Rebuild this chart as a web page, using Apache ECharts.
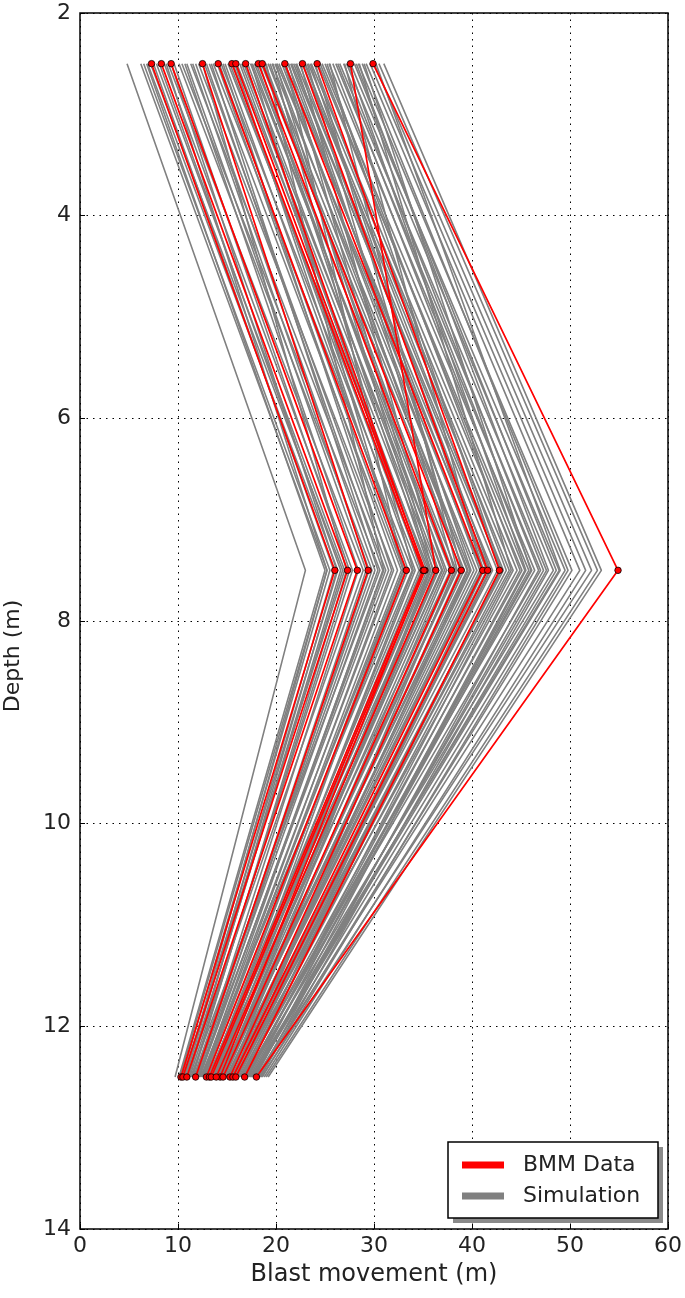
<!DOCTYPE html>
<html>
<head>
<meta charset="utf-8">
<script src="https://cdn.jsdelivr.net/npm/echarts@6/dist/echarts.min.js"></script>
<style>
html,body{margin:0;padding:0;background:#fff;}
#chart{width:685px;height:1298px;}
</style>
</head>
<body>
<div id="chart"></div>
<script>
// Depth levels (m)
const depths = [2.5, 7.5, 12.5];
const xTicks = [0, 10, 20, 30, 40, 50, 60];
const yTicks = [2, 4, 6, 8, 10, 12, 14];

// BMM Data (red) : movement at each depth level
const bmmTop    = [7.3, 8.3, 9.3, 12.5, 14.1, 15.5, 15.9, 16.9, 18.2, 18.6, 20.9, 22.7, 24.2, 27.6, 29.9];
const bmmMid    = [26.0, 27.3, 28.3, 29.4, 33.3, 35.0, 35.2, 35.1, 37.9, 38.9, 41.1, 41.6, 42.8, 36.3, 54.9];
const bmmBottom = [10.3, 10.5, 10.9, 11.8, 12.9, 13.2, 13.4, 14.3, 14.6, 15.3, 15.6, 15.9, 16.8, 13.9, 18.0];

// Simulation (gray)
const simTop = [4.8, 6.2, 6.5, 6.9, 7.5, 7.8, 8.1, 8.6, 9.0, 9.6, 10.1, 10.4, 10.9, 11.3, 11.8, 12.1, 12.7, 13.2, 13.6, 14.0,
  14.4, 14.8, 15.1, 15.6, 16.0, 16.3, 16.7, 17.1, 17.4, 17.8, 18.0, 18.5, 18.9, 19.2, 19.6, 19.9, 20.3, 20.6, 20.9, 21.2,
  21.5, 21.8, 22.1, 22.4, 22.7, 23.0, 23.3, 23.6, 23.9, 24.3, 24.7, 25.0, 25.4, 25.8, 26.1, 26.5, 26.9, 27.2, 27.6, 28.0,
  28.4, 28.8, 29.2, 29.6, 30.0, 30.5, 31.0, 27.0, 28.5, 25.5, 19.0, 21.0, 22.5, 24.0, 12.5, 8.8, 17.5, 20.0, 23.2,
  6.8, 7.2, 9.3, 10.7, 11.5, 12.9, 13.4, 14.2, 14.6, 15.3, 15.8, 16.5, 16.9, 17.6, 18.3, 18.7, 19.4, 20.1, 20.8, 21.6,
  22.0, 22.9, 23.5, 24.5, 25.2, 26.3, 27.4, 28.2, 29.0, 30.2, 21.3, 19.7];
const simMid = [23.0, 25.2, 25.5, 26.3, 25.9, 27.0, 26.6, 27.8, 28.9, 27.5, 29.8, 30.6, 29.2, 31.2, 30.1, 32.0, 31.5, 32.8, 33.9, 32.4,
  34.6, 33.5, 35.6, 34.2, 36.1, 35.4, 37.0, 36.6, 37.8, 38.4, 36.9, 39.2, 38.0, 39.8, 40.5, 39.5, 41.0, 40.2, 42.1, 41.5,
  40.8, 42.6, 43.2, 41.9, 43.8, 42.9, 44.6, 45.1, 43.5, 45.8, 46.4, 44.9, 47.0, 46.1, 47.6, 48.3, 47.3, 48.9, 49.5, 48.6,
  50.2, 49.8, 51.0, 51.6, 52.2, 52.8, 53.2, 41.0, 44.0, 38.5, 31.0, 33.0, 36.5, 39.0, 27.2, 25.2, 33.0, 35.8, 38.2,
  25.0, 26.8, 26.2, 28.4, 29.5, 30.9, 30.4, 33.0, 31.8, 34.9, 33.2, 36.4, 34.8, 37.4, 35.7, 39.6, 37.2, 41.8, 38.8, 43.0,
  39.9, 44.2, 41.2, 45.4, 43.0, 46.8, 45.5, 47.8, 46.0, 49.0, 36.0, 34.0];
const simBottom = [9.7, 10.2, 10.4, 10.6, 10.8, 10.5, 11.0, 11.2, 10.9, 11.4, 11.6, 11.3, 11.9, 12.1, 11.7, 12.4, 12.0, 12.6, 12.3, 12.8,
  13.1, 12.9, 13.3, 13.6, 13.0, 13.8, 13.5, 14.1, 13.7, 14.3, 14.0, 14.5, 14.8, 14.2, 15.0, 14.6, 15.2, 14.9, 15.4, 15.7,
  15.1, 15.5, 15.9, 16.2, 15.8, 16.4, 16.0, 16.6, 16.3, 16.9, 16.5, 17.1, 16.8, 17.3, 17.6, 17.0, 17.8, 17.4, 18.0, 17.7,
  18.3, 18.6, 18.1, 18.8, 18.5, 19.0, 19.2, 15.0, 16.5, 14.4, 12.2, 12.5, 13.2, 14.7, 11.5, 10.7, 13.9, 15.3, 16.1,
  10.1, 10.9, 11.1, 11.8, 12.2, 12.5, 11.9, 13.4, 12.7, 13.9, 13.2, 14.4, 13.6, 15.1, 14.7, 15.6, 14.4, 16.0, 15.5, 16.7,
  15.0, 17.2, 16.8, 17.5, 15.9, 18.2, 17.9, 18.4, 16.9, 17.7, 14.1, 13.7];

const FONT = 'DejaVu Sans';
const FS = 22;
const series = [];
for (let i = 0; i < simTop.length; i++) {
  series.push({
    name: 'Simulation', type: 'line', symbol: 'none', silent: true,
    lineStyle: { color: '#808080', width: 1.6 },
    itemStyle: { color: '#808080' },
    data: [[simTop[i], depths[0]], [simMid[i], depths[1]], [simBottom[i], depths[2]]],
    z: 2
  });
}
for (let i = 0; i < bmmTop.length; i++) {
  series.push({
    name: 'BMM Data', type: 'line', symbol: 'circle', symbolSize: 6.5, silent: true,
    lineStyle: { color: '#ff0000', width: 1.7 },
    itemStyle: { color: '#ff0000', borderColor: '#000', borderWidth: 0.8 },
    data: [[bmmTop[i], depths[0]], [bmmMid[i], depths[1]], [bmmBottom[i], depths[2]]],
    z: 3
  });
}

const chart = echarts.init(document.getElementById('chart'));
chart.setOption({
  animation: false,
  backgroundColor: '#fff',
  grid: { left: 80, right: 17, top: 13, bottom: 69, containLabel: false, outerBoundsMode: 'none',
          show: true, borderColor: '#000', borderWidth: 1.5, backgroundColor: 'transparent' },
  xAxis: {
    type: 'value', min: xTicks[0], max: xTicks[xTicks.length - 1], interval: 10,
    name: 'Blast movement (m)', nameLocation: 'middle', nameGap: 34,
    nameTextStyle: { fontFamily: FONT, fontSize: 24, color: '#222' },
    axisLine: { show: false },
    axisTick: { show: true, inside: true, length: 5, lineStyle: { color: '#000' } },
    axisLabel: { fontFamily: FONT, fontSize: FS, color: '#222', margin: 6 },
    splitLine: { show: true, lineStyle: { color: '#000', type: [1.5, 5], width: 1 } }
  },
  yAxis: {
    type: 'value', inverse: true, min: yTicks[0], max: yTicks[yTicks.length - 1], interval: 2,
    name: 'Depth (m)', nameLocation: 'middle', nameGap: 56, nameRotate: 90,
    nameTextStyle: { fontFamily: FONT, fontSize: FS, color: '#222', padding: [0, 70, 0, 0] },
    axisLine: { show: false },
    axisTick: { show: true, inside: true, length: 5, lineStyle: { color: '#000' } },
    axisLabel: { fontFamily: FONT, fontSize: FS, color: '#222', margin: 9 },
    splitLine: { show: true, lineStyle: { color: '#000', type: [1.5, 5], width: 1 } }
  },
  graphic: [
    { type: 'rect', z: 50, silent: true, shape: { x: 453, y: 1147, width: 210, height: 76 },
      style: { fill: '#8a8a8a' } },
    { type: 'rect', z: 51, silent: true, shape: { x: 448, y: 1142, width: 210, height: 76 },
      style: { fill: '#fff', stroke: '#000', lineWidth: 1.5 } }
  ],
  legend: {
    orient: 'vertical', left: 448, top: 1142, z: 60,
    data: [{ name: 'BMM Data', icon: 'rect' }, { name: 'Simulation', icon: 'rect' }],
    itemWidth: 42, itemHeight: 7, itemGap: 9,
    itemStyle: { borderWidth: 0 },
    padding: [12, 10, 12, 14],
    textStyle: { fontFamily: FONT, fontSize: FS, color: '#222', padding: [0, 0, 0, 14] },
    selectedMode: false
  },
  series: series
});
</script>
</body>
</html>
